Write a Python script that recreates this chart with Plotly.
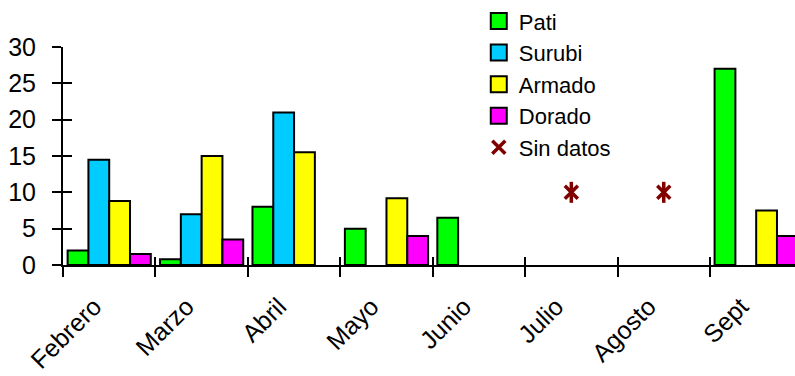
import plotly.graph_objects as go

# Monthly catch per species (months with no survey marked separately)
months = ["Febrero", "Marzo", "Abril", "Mayo", "Junio", "Julio", "Agosto", "Sept"]
pati = [2, 0.8, 8, 5, 6.5, None, None, 27]
surubi = [14.5, 7, 21, None, None, None, None, None]
armado = [8.8, 15, 15.5, 9.2, None, None, None, 7.5]
dorado = [1.5, 3.5, None, 4, None, None, None, 4]
sin_datos = [None, None, None, None, None, 10, 10, None]

series = [
    ("Pati", pati, "#00FF00"),
    ("Surubi", surubi, "#00CCFF"),
    ("Armado", armado, "#FFFF00"),
    ("Dorado", dorado, "#FF00FF"),
]

FONT = "Arial, Liberation Sans, sans-serif"
STAR = "#800000"

fig = go.Figure()

for name, vals, col in series:
    fig.add_trace(go.Bar(
        x=months, y=vals, name=name, showlegend=False,
        marker=dict(color=col, line=dict(color="black", width=2)),
    ))

# Larger square swatches for the legend
for name, vals, col in series:
    fig.add_trace(go.Scatter(
        x=[None], y=[None], mode="markers", name=name,
        marker=dict(symbol="square", size=16, color=col,
                    line=dict(color="black", width=2)),
    ))

# "Sin datos" asterisk: an X with a vertical stroke
fig.add_trace(go.Scatter(
    x=months, y=sin_datos, mode="markers", name="Sin datos",
    marker=dict(symbol="x-thin-open", size=13,
                line=dict(color=STAR, width=3.5), color=STAR),
))
fig.add_trace(go.Scatter(
    x=months, y=sin_datos, mode="markers", showlegend=False,
    marker=dict(symbol="line-ns-open", size=15,
                line=dict(color=STAR, width=3.5), color=STAR),
))

x_range = [-0.5, 7.42]
boundaries = [i - 0.5 for i in range(len(months) + 1)]

fig.update_layout(
    width=795, height=376,
    margin=dict(l=63, r=0, t=47, b=111),
    paper_bgcolor="white", plot_bgcolor="white",
    barmode="group", bargap=0.1, bargroupgap=0,
    font=dict(family=FONT, size=25, color="black"),
    legend=dict(
        x=0.568, y=1.215, xanchor="left", yanchor="top",
        font=dict(family=FONT, size=22, color="black"),
        bgcolor="rgba(0,0,0,0)", traceorder="normal",
    ),
    xaxis=dict(
        type="category", categoryorder="array", categoryarray=months,
        range=x_range, tickson="boundaries", automargin=False,
        ticks="outside", ticklen=10, tickwidth=2, tickcolor="black",
        showline=True, linecolor="black", linewidth=2,
        showgrid=False, zeroline=False, tickangle=-45,
        ticklabelstandoff=15, ticklabelshift=-15,
        tickfont=dict(family=FONT, size=25),
    ),
    xaxis2=dict(
        overlaying="x", anchor="y", side="bottom",
        range=x_range, tickmode="array", tickvals=boundaries,
        ticks="inside", ticklen=8, tickwidth=2, tickcolor="black",
        showticklabels=False, showline=False, showgrid=False, zeroline=False,
    ),
    yaxis=dict(
        range=[0, 30], tickmode="linear", tick0=0, dtick=5,
        ticks="outside", ticklen=9, tickwidth=2, tickcolor="black",
        showline=True, linecolor="black", linewidth=2, automargin=False,
        showgrid=False, zeroline=False, ticklabelstandoff=11,
        tickfont=dict(family=FONT, size=25),
    ),
    yaxis2=dict(
        overlaying="y", anchor="x", side="left",
        range=[0, 30], tickmode="linear", tick0=0, dtick=5,
        ticks="inside", ticklen=9, tickwidth=2, tickcolor="black",
        showticklabels=False, showline=False, showgrid=False, zeroline=False,
    ),
)

# Invisible carrier so the overlay axes get drawn
fig.add_trace(go.Scatter(x=[None], y=[None], xaxis="x2", yaxis="y2",
                         showlegend=False, hoverinfo="skip"))

fig.write_html("out.html")
